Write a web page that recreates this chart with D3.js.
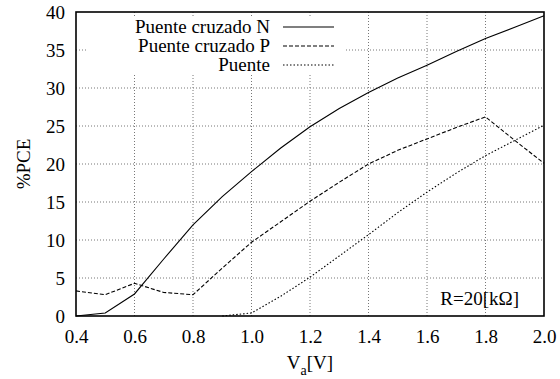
<!DOCTYPE html>
<html>
<head>
<meta charset="utf-8">
<script src="https://cdn.jsdelivr.net/npm/d3@7"></script>
<style>
  body { margin: 0; background: #fff; }
  svg text { font-family: "Liberation Serif", "DejaVu Serif", "Noto Serif", "Times New Roman", Times, serif !important; font-size: 19px; fill: #000; }
</style>
</head>
<body>
<div id="chart"></div>
<script>
// data (Va in volts, %PCE)
var vaN = [0.4, 0.5, 0.6, 0.7, 0.8, 0.9, 1.0, 1.1, 1.2, 1.3, 1.4, 1.5, 1.6, 1.7, 1.8, 1.9, 2.0];
var pceN = [0.0, 0.4, 2.9, 7.5, 12.0, 15.7, 19.0, 22.1, 24.9, 27.3, 29.4, 31.3, 33.0, 34.8, 36.5, 38.0, 39.5];

var vaP = [0.4, 0.5, 0.6, 0.7, 0.8, 0.9, 1.0, 1.1, 1.2, 1.3, 1.4, 1.5, 1.6, 1.7, 1.8, 1.9, 2.0];
var pceP = [3.3, 2.8, 4.3, 3.1, 2.8, 6.3, 9.7, 12.4, 15.1, 17.6, 20.0, 21.8, 23.3, 24.8, 26.2, 23.1, 20.1];

var vaB = [0.9, 1.0, 1.1, 1.2, 1.3, 1.4, 1.5, 1.6, 1.7, 1.8, 1.9, 2.0];
var pceB = [0.0, 0.4, 2.6, 5.1, 7.9, 10.7, 13.6, 16.3, 18.8, 21.1, 23.1, 25.1];

var xTicks = [0.4, 0.6, 0.8, 1.0, 1.2, 1.4, 1.6, 1.8, 2.0];
var yTicks = [0, 5, 10, 15, 20, 25, 30, 35, 40];

var seriesNames = ["Puente cruzado N", "Puente cruzado P", "Puente"];
var dashes = ["none", "4,2", "1.5,2"];

// svg area
var svgWidth = 560;
var svgHeight = 379;
var margin = { top: 12, right: 16, bottom: 63, left: 76 };
var width = svgWidth - margin.left - margin.right;
var height = svgHeight - margin.top - margin.bottom;

var svg = d3.select("#chart")
    .append("svg")
    .attr("width", svgWidth)
    .attr("height", svgHeight)
    .attr("font-family", "Liberation Serif, DejaVu Serif, serif");

var chartGroup = svg.append("g")
    .attr("transform", `translate(${margin.left}, ${margin.top})`);

// scales
var xScale = d3.scaleLinear()
    .domain([0.4, 2.0])
    .range([0, width]);

var yScale = d3.scaleLinear()
    .domain([0, 40])
    .range([height, 0]);

// grid
chartGroup.append("g")
    .selectAll("line")
    .data(xTicks.slice(1, -1))
    .enter()
    .append("line")
    .attr("x1", d => xScale(d))
    .attr("x2", d => xScale(d))
    .attr("y1", 0)
    .attr("y2", height)
    .attr("stroke", "#777")
    .attr("stroke-width", 1)
    .attr("stroke-dasharray", "1,2");

chartGroup.append("g")
    .selectAll("line")
    .data(yTicks.slice(1, -1))
    .enter()
    .append("line")
    .attr("x1", 0)
    .attr("x2", width)
    .attr("y1", d => yScale(d))
    .attr("y2", d => yScale(d))
    .attr("stroke", "#777")
    .attr("stroke-width", 1)
    .attr("stroke-dasharray", "1,2");

// key box hides the grid behind it
chartGroup.append("rect")
    .attr("x", 10)
    .attr("y", 6)
    .attr("width", 258)
    .attr("height", 56)
    .attr("fill", "#fff");

// axes (labels only, gnuplot-style)
var bottomAxis = d3.axisBottom(xScale)
    .tickValues(xTicks)
    .tickFormat(d3.format(".1f"))
    .tickSize(0)
    .tickPadding(10);

var xAxisG = chartGroup.append("g")
    .attr("transform", `translate(0, ${height})`)
    .call(bottomAxis)
    .attr("font-family", null)
    .attr("font-size", null);
xAxisG.select(".domain").remove();
xAxisG.selectAll("text")
    .attr("dy", "0.92em");

var leftAxis = d3.axisLeft(yScale)
    .tickValues(yTicks)
    .tickSize(0)
    .tickPadding(11);

var yAxisG = chartGroup.append("g")
    .call(leftAxis)
    .attr("font-family", null)
    .attr("font-size", null);
yAxisG.select(".domain").remove();
yAxisG.selectAll("text")
    .attr("dy", "0.34em");

// curves
var lineGen = d3.line()
    .x(d => xScale(d[0]))
    .y(d => yScale(d[1]));

var allSeries = [
    d3.zip(vaN, pceN),
    d3.zip(vaP, pceP),
    d3.zip(vaB, pceB)
];

chartGroup.selectAll(".curve")
    .data(allSeries)
    .enter()
    .append("path")
    .attr("class", "curve")
    .attr("d", d => lineGen(d))
    .attr("fill", "none")
    .attr("stroke", "#000")
    .attr("stroke-width", 1.1)
    .attr("stroke-dasharray", (d, i) => dashes[i]);

// border
chartGroup.append("rect")
    .attr("x", 0)
    .attr("y", 0)
    .attr("width", width)
    .attr("height", height)
    .attr("fill", "none")
    .attr("stroke", "#000")
    .attr("stroke-width", 1.6);

// legend
var legend = chartGroup.selectAll(".key")
    .data(seriesNames)
    .enter()
    .append("g")
    .attr("class", "key")
    .attr("transform", (d, i) => `translate(0, ${15 + i * 19})`);

legend.append("text")
    .attr("x", 194)
    .attr("y", 6)
    .attr("text-anchor", "end")
    .text(d => d);

legend.append("line")
    .attr("x1", 207)
    .attr("x2", 258)
    .attr("y1", 0)
    .attr("y2", 0)
    .attr("stroke", "#000")
    .attr("stroke-width", 1.1)
    .attr("stroke-dasharray", (d, i) => dashes[i]);

// annotation
chartGroup.append("text")
    .attr("x", 443)
    .attr("y", 305 - margin.top)
    .attr("text-anchor", "end")
    .text("R=20[kΩ]");

// axis titles
var xTitle = svg.append("text")
    .attr("x", margin.left + width / 2)
    .attr("y", 369)
    .attr("text-anchor", "middle");
xTitle.append("tspan").text("V");
xTitle.append("tspan").style("font-size", "14px").attr("dy", 6).text("a");
xTitle.append("tspan").attr("dy", -6).text("[V]");

svg.append("text")
    .attr("transform", "rotate(-90)")
    .attr("x", -(margin.top + height / 2))
    .attr("y", 30)
    .attr("text-anchor", "middle")
    .text("%PCE");
</script>
</body>
</html>
